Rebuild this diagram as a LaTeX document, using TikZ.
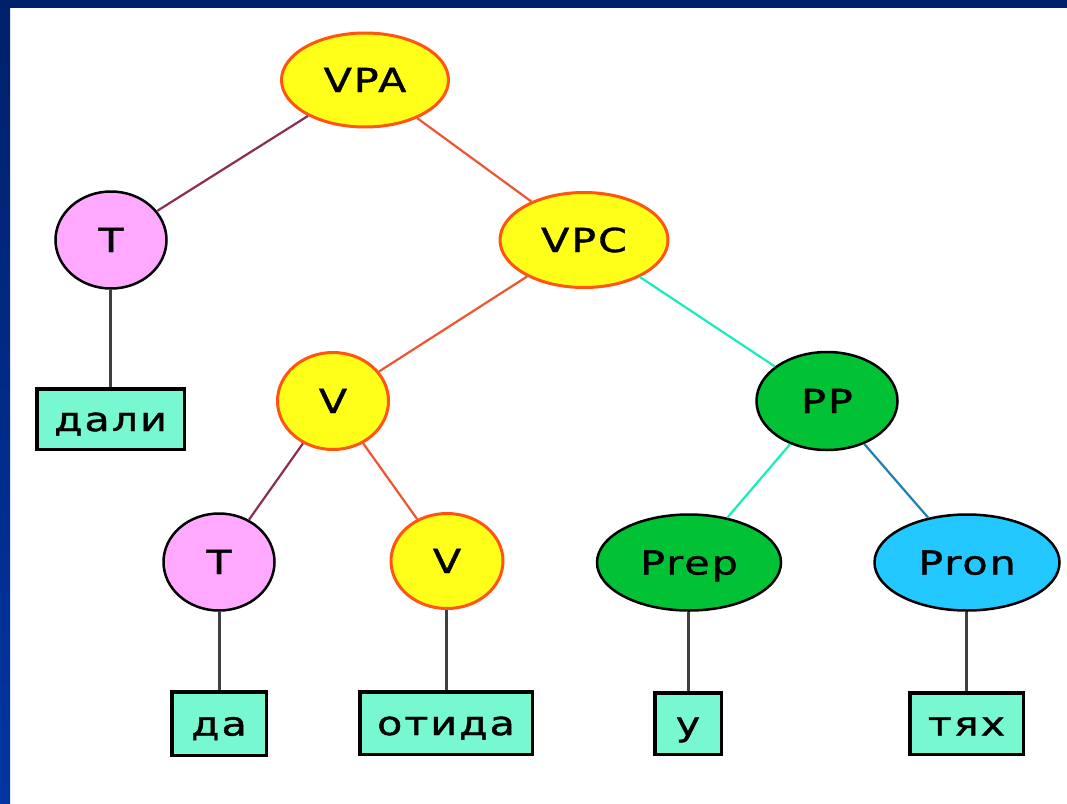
\documentclass[tikz,border=0pt]{standalone}
\usepackage{fontspec}
\usetikzlibrary{shapes.geometric}
\newfontfamily\labelfont[FakeStretch=1.25, FakeBold=1.2, LetterSpace=6]{DejaVu Sans}

\definecolor{frameTop}{HTML}{00216A}
\definecolor{frameBottom}{HTML}{0036A3}
\definecolor{nodeYellow}{HTML}{FFFF1A}
\definecolor{nodeOrange}{HTML}{FF5511}
\definecolor{nodePink}{HTML}{FFA8FF}
\definecolor{nodeGreen}{HTML}{00C234}
\definecolor{nodeBlue}{HTML}{22C8FF}
\definecolor{boxMint}{HTML}{78F8D0}
\definecolor{edgeMaroon}{HTML}{8B2D55}
\definecolor{edgeRed}{HTML}{EE5533}
\definecolor{edgeAqua}{HTML}{18EEB8}
\definecolor{edgeSteel}{HTML}{1E7FB0}
\definecolor{edgeGray}{HTML}{404040}

\tikzset{
  lbl/.style={font=\labelfont\fontsize{33}{33}\selectfont, text height=24pt, text depth=0pt, inner sep=0pt},
  yellownode/.style={lbl, ellipse, fill=nodeYellow, draw=nodeOrange, line width=3pt},
  pinknode/.style={lbl, ellipse, fill=nodePink, draw=black, line width=2.5pt},
  greennode/.style={lbl, ellipse, fill=nodeGreen, draw=black, line width=2.5pt},
  bluenode/.style={lbl, ellipse, fill=nodeBlue, draw=black, line width=2.5pt},
  wordbox/.style={lbl, rectangle, fill=boxMint, draw=black, line width=3.5pt},
  branch/.style={line width=2.2pt},
  leafline/.style={draw=edgeGray, line width=3pt},
}

\begin{document}
\begin{tikzpicture}[x=1pt, y=-1pt]
  % page and frame
  \useasboundingbox (0,0) rectangle (1067,803);
  \fill[white] (0,0) rectangle (1067,803);
  \shade[top color=frameTop, bottom color=frameBottom] (0,0) rectangle (10,803);
  \fill[frameTop] (0,0) rectangle (1067,8);

  % phrase nodes
  \node[yellownode, minimum width=167pt, minimum height=94pt] (vpa) at (365,80) {VPA};
  \node[yellownode, minimum width=168pt, minimum height=95pt] (vpc) at (584,240) {VPC};
  \node[pinknode, minimum width=111pt, minimum height=97pt] (t1) at (111,240) {T};
  \node[yellownode, minimum width=111pt, minimum height=97pt] (v1) at (333,401) {V};
  \node[greennode, minimum width=141pt, minimum height=98pt] (pp) at (827,401) {PP};
  \node[pinknode, minimum width=111pt, minimum height=97pt] (t2) at (219,562) {T};
  \node[yellownode, minimum width=112pt, minimum height=95pt] (v2) at (447,561) {V};
  \node[greennode, minimum width=184pt, minimum height=96pt] (prep) at (689,562.5) {Prep};
  \node[bluenode, minimum width=185pt, minimum height=96pt] (pron) at (967,562.5) {Pron};

  % word boxes
  \node[wordbox, minimum width=147.5pt, minimum height=60.5pt] (dali) at (110.5,419) {дали};
  \node[wordbox, minimum width=94.5pt, minimum height=63.5pt] (da) at (219,723.5) {да};
  \node[wordbox, minimum width=172.5pt, minimum height=62.5pt] (otida) at (446,723) {отида};
  \node[wordbox, minimum width=66.5pt, minimum height=61.5pt] (u) at (688,723.5) {у};
  \node[wordbox, minimum width=113.5pt, minimum height=61.5pt] (tyah) at (966.5,723.5) {тях};

  % branches
  \draw[branch, edgeMaroon] (vpa) -- (t1);
  \draw[branch, edgeRed] (vpa) -- (vpc);
  \draw[branch, edgeRed] (vpc) -- (v1);
  \draw[branch, edgeAqua] (vpc) -- (pp);
  \draw[branch, edgeMaroon] (v1) -- (t2);
  \draw[branch, edgeRed] (v1) -- (v2);
  \draw[branch, edgeAqua] (pp) -- (prep);
  \draw[branch, edgeSteel] (pp) -- (pron);

  % leaves: vertical stems from each word box up to its node
  \draw[leafline] (dali.north) -- (dali.north |- t1.south);
  \draw[leafline] (da.north) -- (da.north |- t2.south);
  \draw[leafline] (otida.north) -- (otida.north |- v2.south);
  \draw[leafline] (u.north) -- (u.north |- prep.south);
  \draw[leafline] (tyah.north) -- (tyah.north |- pron.south);
\end{tikzpicture}
\end{document}
